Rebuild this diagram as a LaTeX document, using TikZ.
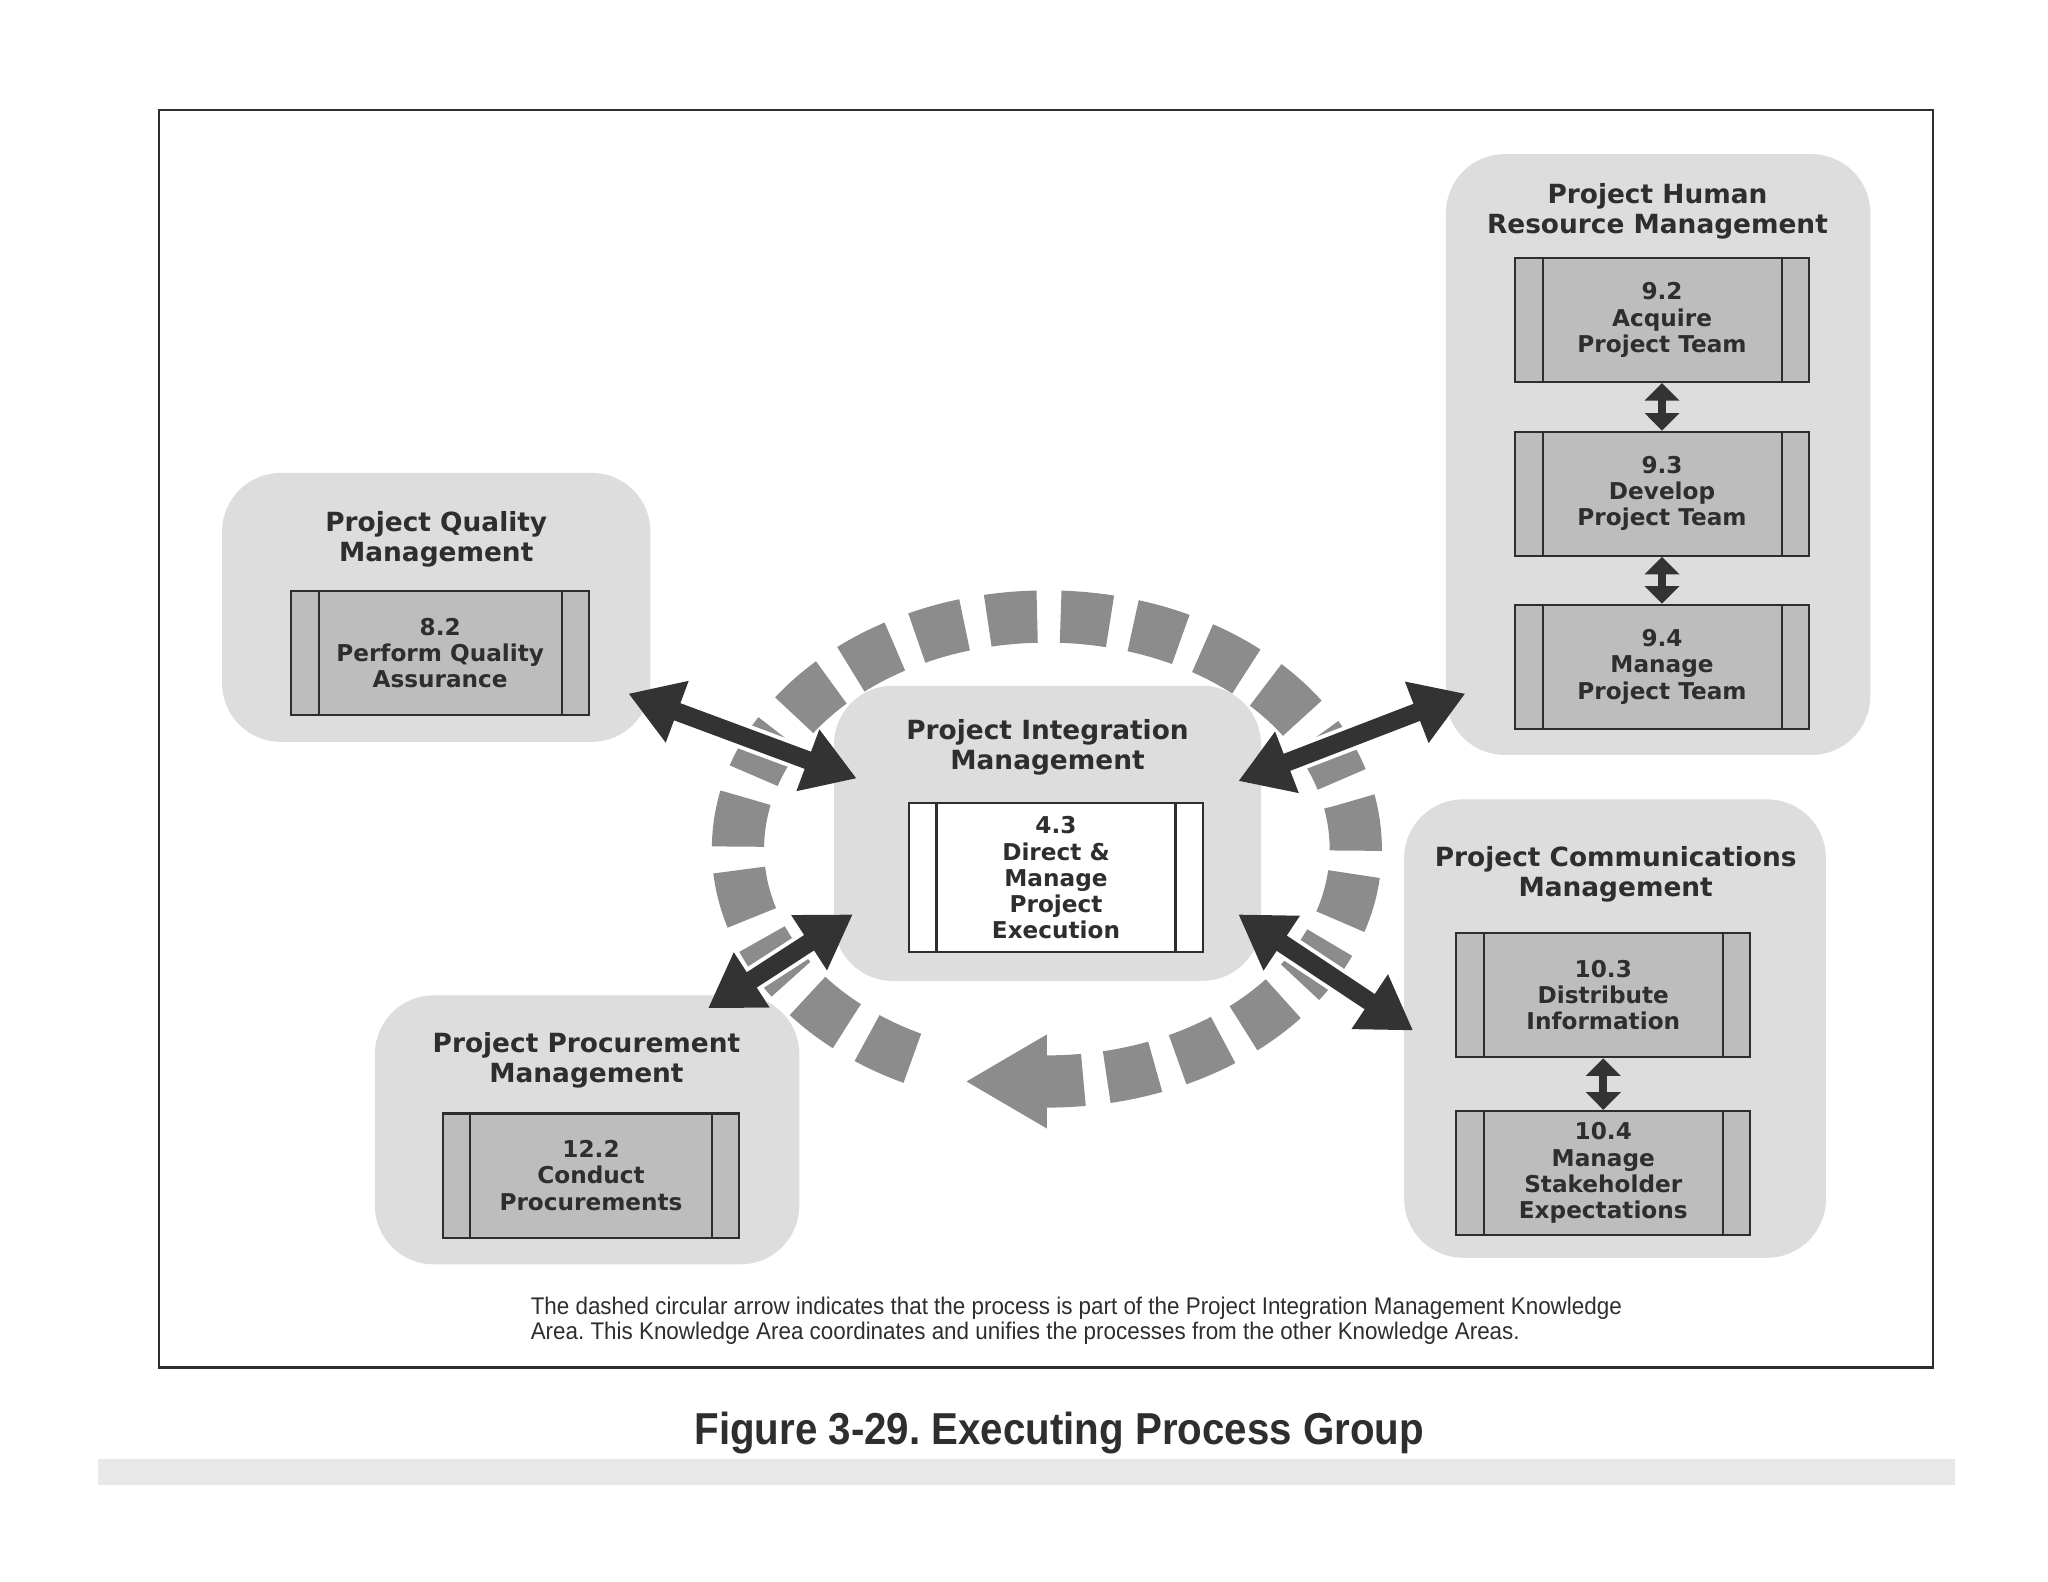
\documentclass[tikz,border=0pt]{standalone}
\usepackage{fontspec}
\setmainfont{DejaVu Sans}
\newfontfamily\notefont[FakeStretch=0.93]{Liberation Sans}
\newfontfamily\capfont[FakeStretch=0.9]{Liberation Sans}
\usepackage{xcolor}
\usepackage{tikz}
\usetikzlibrary{arrows.meta,positioning}
\frenchspacing

\definecolor{areagray}{gray}{0.865}
\definecolor{procgray}{gray}{0.74}
\definecolor{ringgray}{gray}{0.55}
\definecolor{darkarr}{gray}{0.2}
\definecolor{inkgray}{gray}{0.18}

\begin{document}
\begin{tikzpicture}[x=0.02cm, y=-0.02cm,
    area/.style={rectangle, rounded corners=0.9cm, fill=areagray, draw=none, inner sep=0pt},
    ktitle/.style={font=\fontsize{11.5}{13}\selectfont\bfseries, text=inkgray, align=center, inner sep=0pt},
    proc/.style={rectangle, draw=inkgray, line width=0.9pt, fill=procgray,
        minimum width=4.5cm, minimum height=1.9cm, inner sep=0pt, align=center,
        font=\fontsize{10.1}{11.4}\selectfont\bfseries, text=inkgray,
        path picture={
            \draw[inkgray, line width=0.9pt] ([xshift=0.42cm]path picture bounding box.north west) -- ([xshift=0.42cm]path picture bounding box.south west);
            \draw[inkgray, line width=0.9pt] ([xshift=-0.42cm]path picture bounding box.north east) -- ([xshift=-0.42cm]path picture bounding box.south east);}},
    ring/.style={draw=ringgray, line width=0.8cm, dash pattern=on 0.76cm off 0.36cm, dash phase=0.2cm},
    bigarr/.style={draw=darkarr, line width=0.28cm,
        {Triangle[width=0.95cm,length=0.8cm]}-{Triangle[width=0.95cm,length=0.8cm]},
        preaction={draw=white, line width=0.4cm}},
    smallarr/.style={draw=darkarr, line width=0.12cm,
        {Triangle[width=0.52cm,length=0.27cm]}-{Triangle[width=0.52cm,length=0.27cm]}},
    note/.style={font=\notefont\fontsize{10.5}{10.8}\selectfont, text=inkgray, align=left, inner sep=0pt},
    figcap/.style={font=\capfont\fontsize{19.5}{22}\selectfont\bfseries, text=inkgray, inner sep=0pt}
]
    \useasboundingbox (0,0) rectangle (1568,1211);
    \fill[white] (0,0) rectangle (1568,1211);
    \draw[line width=1pt, inkgray] (122,84) rectangle (1480,1047);

    % knowledge areas
    \node[area, minimum width=6.56cm, minimum height=4.12cm] (qualarea) at (334,465) {};
    \node[area, minimum width=6.5cm, minimum height=9.2cm] (hrarea) at (1269.5,348) {};
    \node[area, minimum width=6.54cm, minimum height=4.52cm] (intarea) at (802,638) {};
    \node[area, minimum width=6.46cm, minimum height=7.02cm] (comarea) at (1236.5,787.5) {};
    \node[area, minimum width=6.5cm, minimum height=4.12cm] (proarea) at (449.5,865) {};

    \node[ktitle] (qualtitle) at (334,413) {Project Quality\\Management};
    \node[ktitle] (hrtitle) at (1269,161.5) {Project Human\\Resource Management};
    \node[ktitle] (inttitle) at (802,572) {Project Integration\\Management};
    \node[ktitle] (comtitle) at (1237,669.5) {Project Communications\\Management};
    \node[ktitle] (protitle) at (449,811.5) {Project Procurement\\Management};

    % processes
    \node[proc, minimum width=4.56cm] (p82) at (337,500) {8.2\\Perform Quality\\Assurance};
    \node[proc] (p92) at (1272.5,245) {9.2\\Acquire\\Project Team};
    \node[proc] (p93) at (1272.5,378) {9.3\\Develop\\Project Team};
    \node[proc] (p94) at (1272.5,510.5) {9.4\\Manage\\Project Team};
    \node[proc, fill=white, minimum height=2.28cm] (p43) at (808.5,672) {4.3\\Direct \&\\Manage\\Project\\Execution};
    \node[proc] (p103) at (1227.5,762) {10.3\\Distribute\\Information};
    \node[proc] (p104) at (1227.5,898) {10.4\\Manage\\Stakeholder\\Expectations};
    \node[proc, minimum width=4.54cm] (p122) at (452.5,900) {12.2\\Conduct\\Procurements};

    % dashed circular arrow
    \coordinate (ringend) at (801.5,828);
    \draw[ring] (ringend) arc[start angle=450, end angle=115, x radius=236.5, y radius=178];
    \fill[ringgray] (ringend) ++(0,-36) -- ++(-61.5,36) -- ++(61.5,36) -- cycle;

    % exchanges with integration
    \coordinate (qualtip) at (481,531);
    \coordinate (intq) at (656,596);
    \coordinate (hrtip) at (1122,531);
    \coordinate (inth) at (948,598);
    \coordinate (protip) at (542,772);
    \coordinate (intp) at (653,700);
    \coordinate (comtip) at (1082,789);
    \coordinate (intc) at (948,700);
    \path[bigarr] (qualtip) -- (intq);
    \path[bigarr] (hrtip) -- (inth);
    \path[bigarr] (protip) -- (intp);
    \path[bigarr] (comtip) -- (intc);

    \path[smallarr] (p92) -- (p93);
    \path[smallarr] (p93) -- (p94);
    \path[smallarr] (p103) -- (p104);

    \node[note, anchor=north west] (ringnote) at (406,993) {The dashed circular arrow indicates that the process is part of the Project Integration Management Knowledge\\Area. This Knowledge Area coordinates and unifies the processes from the other Knowledge Areas.};
    \node[figcap] (caption) at (811,1097) {Figure 3-29. Executing Process Group};
    \fill[black!9] (75,1117) rectangle (1497,1137);
\end{tikzpicture}
\end{document}
